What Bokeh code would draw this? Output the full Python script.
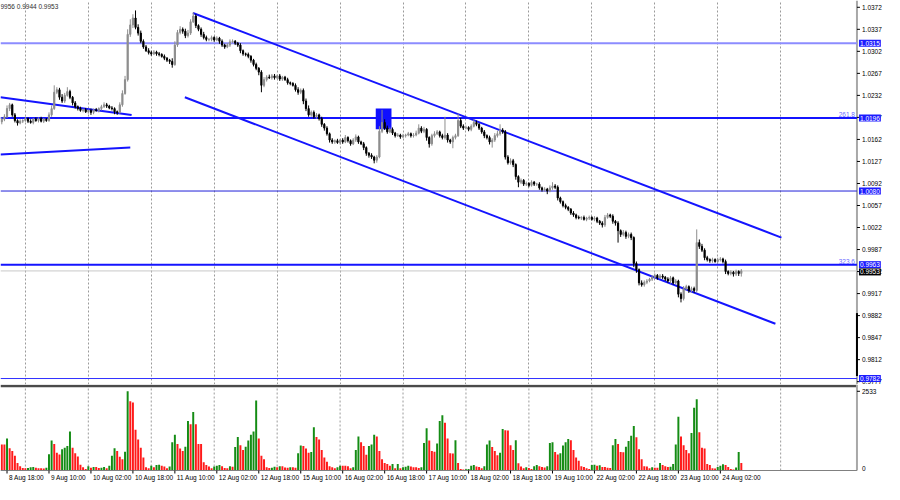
from bokeh.plotting import figure
from bokeh.layouts import column
from bokeh.models import ColumnDataSource, FixedTicker, Label, Range1d, Grid
from bokeh.core.properties import value
from bokeh.embed import file_html
from bokeh.resources import INLINE

# ---------------- data (H1 bars, index 0 = 8 Aug 16:00) ----------------
first_open = 1.0190
closes = [
 1.0194, 1.0198, 1.0211, 1.0217, 1.0201, 1.0192, 1.0188, 1.0191, 1.0192, 1.0195,
 1.0191, 1.0189, 1.0194, 1.0192, 1.0195, 1.0191, 1.0194, 1.0192, 1.0201, 1.0211,
 1.0237, 1.0241, 1.0229, 1.0223, 1.0232, 1.0238, 1.0229, 1.0220, 1.0214, 1.0211,
 1.0208, 1.0209, 1.0206, 1.0208, 1.0205, 1.0209, 1.0208, 1.0211, 1.0214, 1.0217,
 1.0215, 1.0212, 1.0211, 1.0206, 1.0205, 1.0217, 1.0235, 1.0257, 1.0329, 1.0344,
 1.0355, 1.0340, 1.0331, 1.0318, 1.0309, 1.0303, 1.0300, 1.0298, 1.0301, 1.0298,
 1.0297, 1.0294, 1.0291, 1.0288, 1.0286, 1.0281, 1.0312, 1.0332, 1.0337, 1.0334,
 1.0327, 1.0331, 1.0349, 1.0358, 1.0343, 1.0337, 1.0329, 1.0324, 1.0321, 1.0321,
 1.0324, 1.0320, 1.0323, 1.0318, 1.0312, 1.0309, 1.0312, 1.0317, 1.0318, 1.0315,
 1.0312, 1.0303, 1.0298, 1.0297, 1.0294, 1.0288, 1.0281, 1.0275, 1.0269, 1.0248,
 1.0257, 1.0261, 1.0260, 1.0263, 1.0260, 1.0263, 1.0258, 1.0261, 1.0257, 1.0252,
 1.0251, 1.0248, 1.0241, 1.0237, 1.0240, 1.0223, 1.0211, 1.0201, 1.0205, 1.0198,
 1.0201, 1.0195, 1.0186, 1.0180, 1.0171, 1.0161, 1.0158, 1.0160, 1.0157, 1.0161,
 1.0158, 1.0165, 1.0160, 1.0155, 1.0161, 1.0166, 1.0158, 1.0155, 1.0149, 1.0140,
 1.0137, 1.0134, 1.0129, 1.0134, 1.0175, 1.0189, 1.0180, 1.0174, 1.0178, 1.0172,
 1.0168, 1.0169, 1.0166, 1.0168, 1.0169, 1.0171, 1.0168, 1.0169, 1.0172, 1.0180,
 1.0175, 1.0178, 1.0165, 1.0155, 1.0168, 1.0171, 1.0174, 1.0168, 1.0165, 1.0169,
 1.0161, 1.0158, 1.0165, 1.0168, 1.0192, 1.0183, 1.0180, 1.0181, 1.0178, 1.0183,
 1.0189, 1.0186, 1.0180, 1.0174, 1.0168, 1.0165, 1.0158, 1.0161, 1.0168, 1.0171,
 1.0177, 1.0174, 1.0134, 1.0125, 1.0128, 1.0122, 1.0103, 1.0094, 1.0097, 1.0091,
 1.0092, 1.0089, 1.0094, 1.0091, 1.0091, 1.0085, 1.0082, 1.0083, 1.0080, 1.0085,
 1.0088, 1.0086, 1.0069, 1.0063, 1.0057, 1.0054, 1.0051, 1.0045, 1.0042, 1.0038,
 1.0037, 1.0038, 1.0035, 1.0037, 1.0038, 1.0035, 1.0037, 1.0032, 1.0029, 1.0026,
 1.0038, 1.0042, 1.0040, 1.0032, 1.0029, 1.0017, 1.0011, 1.0014, 1.0008, 1.0011,
 1.0006, 0.9965, 0.9955, 0.9934, 0.9931, 0.9935, 0.9937, 0.9940, 0.9943, 0.9946,
 0.9942, 0.9945, 0.9943, 0.9940, 0.9937, 0.9942, 0.9934, 0.9937, 0.9916, 0.9909,
 0.9925, 0.9928, 0.9922, 0.9925, 0.9922, 0.9998, 0.9992, 0.9986, 0.9974, 0.9971,
 0.9969, 0.9971, 0.9968, 0.9971, 0.9972, 0.9968, 0.9952, 0.9949, 0.9951, 0.9948,
 0.9952, 0.9949, 0.9953,
]
up_wick_pips = [
 3,4,5,3,2,3,2,3,2,3,2,3,2,3,2,3,2,2,4,5,
 11,4,3,5,4,7,3,2,3,2,3,2,3,2,3,2,3,2,3,4,
 3,2,3,2,2,4,5,6,8,9,6,12,5,4,3,3,4,3,3,2,
 3,2,3,2,2,5,6,4,5,3,4,5,4,6,3,2,3,4,3,2,
 3,2,3,2,3,2,3,4,3,2,2,3,2,2,3,2,2,3,2,3,
 4,3,4,3,3,2,3,2,2,3,2,2,3,4,3,3,4,5,3,3,
 3,2,3,2,3,2,3,2,3,2,3,4,2,2,3,4,2,2,3,2,
 2,3,2,3,8,20,5,4,3,3,2,3,2,3,2,3,2,3,4,6,
 3,4,2,2,3,4,3,2,3,29,3,2,3,3,11,4,3,3,2,3,
 5,3,2,2,3,2,3,3,4,5,9,3,3,3,4,3,2,2,3,2,
 3,2,3,2,2,3,2,3,2,4,6,3,3,2,2,3,2,2,3,2,
 3,2,3,2,3,2,3,2,2,3,4,3,2,3,2,3,2,4,3,3,
 3,2,3,2,4,3,3,2,3,3,2,3,3,2,3,3,2,3,2,3,
 4,3,2,3,3,21,5,4,3,3,2,3,2,3,3,2,3,2,3,2,
 3,2,3,
]
dn_wick_pips = [
 4,3,2,4,3,3,4,2,3,2,3,2,3,2,3,2,3,2,2,3,
 2,3,4,3,3,2,3,4,3,3,2,3,2,3,4,3,2,3,3,2,
 3,2,3,4,4,2,3,2,3,4,5,3,4,3,3,2,3,3,2,3,
 3,2,3,3,4,5,2,3,3,4,4,3,3,2,4,3,4,3,3,3,
 3,3,2,4,3,3,2,3,2,3,3,4,3,3,3,4,3,3,5,11,
 3,3,2,3,3,2,3,3,2,3,3,2,3,4,3,5,4,3,3,3,
 3,3,4,4,3,4,3,3,2,3,3,2,3,3,2,3,3,2,4,4,
 4,3,5,4,2,3,3,3,2,3,3,2,3,2,3,2,3,3,2,2,
 3,3,5,6,3,3,2,3,3,3,4,3,10,3,2,3,3,2,3,3,
 2,3,3,3,4,3,4,9,3,3,3,3,4,3,3,4,5,8,3,3,
 3,3,2,3,3,3,3,3,5,2,3,3,4,3,3,3,3,3,3,3,
 2,3,2,3,3,2,3,3,3,4,3,2,3,4,4,19,4,3,4,3,
 4,6,5,4,3,3,3,2,3,3,3,2,3,3,3,4,3,3,5,6,
 3,3,4,3,4,3,4,3,4,3,3,3,2,3,3,3,4,3,3,4,
 3,4,5,
]
volumes = [
 830, 830, 1020, 710, 620, 470, 240, 135, 80,
 70, 80, 100, 110, 90, 70, 70, 60, 90,
 520, 960, 850, 570, 510, 680, 730, 780, 1250, 730, 550, 450, 180, 100, 50, 135,
 90, 110, 110, 80, 90, 110, 70,
 155, 470, 710, 620, 440, 360, 600, 2533, 2215, 2175, 1300, 990, 730, 415, 100,
 70, 155, 100, 175, 180, 150, 130, 70, 130,
 900, 1140, 850, 700, 620, 760, 1580, 1480, 1870, 1480, 850, 850, 260, 175, 125, 70,
 125, 155, 175, 135, 80, 70, 135, 120,
 750, 1070, 810, 655, 760, 960, 1140, 1250, 2240, 1020, 470, 360, 100,
 80, 90, 120, 100, 135, 135, 95, 85, 100, 100, 85,
 550, 800, 780, 700, 570, 590, 1380, 1070, 990, 655, 415, 280, 135, 100, 70,
 100, 155, 150, 150, 135, 70, 100,
 655, 1090, 900, 780, 500, 780, 830, 1140, 1090, 620, 360, 240, 210, 155, 210, 70,
 210, 70, 100, 120, 150, 130, 100, 100, 80, 100,
 880, 1350, 960,
 620, 600, 860, 1580, 1770, 1530, 1020, 550, 540, 970,
 240, 50, 30, 40, 50, 155, 175, 125, 115, 70,
 135, 830, 960, 750, 620, 490, 570, 1330, 1290, 1280,
 810, 655, 970, 230, 125, 70, 100, 80, 50, 135,
 175, 135, 115, 95, 135, 880, 900, 590, 510, 550,
 800, 900, 1010, 970, 655, 415, 310, 135, 115, 70,
 50, 175, 180, 155, 165, 115, 110, 90, 80, 810,
 1010, 850, 590, 580, 760, 940, 1110, 1420, 1060, 680,
 360, 135, 130, 70, 100, 90, 85, 240, 175, 135,
 115, 120, 210, 830, 1720, 1090, 810, 655, 550, 1200,
 2010, 2280, 1220, 730, 700, 210, 175, 70, 65, 115,
 155, 200, 175, 115, 50, 30, 95, 590, 240,
]
tick_bars = [2, 18, 34, 50, 66, 82, 98, 114, 130, 146, 162, 178, 194, 210, 226, 242, 258, 274]
tick_labels = ["8 Aug 18:00", "9 Aug 10:00", "10 Aug 02:00", "10 Aug 18:00", "11 Aug 10:00",
               "12 Aug 02:00", "12 Aug 18:00", "15 Aug 10:00", "16 Aug 02:00", "16 Aug 18:00",
               "17 Aug 10:00", "18 Aug 02:00", "18 Aug 18:00", "19 Aug 10:00", "22 Aug 02:00",
               "22 Aug 18:00", "23 Aug 10:00", "24 Aug 02:00"]
grid_bars = [9, 33, 57, 81, 105, 129, 153, 177, 201, 225, 249, 273, 297]
price_ticks = [1.0372, 1.0337, 1.0302, 1.0267, 1.0232, 1.0197, 1.0162, 1.0127, 1.0092,
               1.0057, 1.0022, 0.9987, 0.9952, 0.9917, 0.9882, 0.9847, 0.9812, 0.9777]
volume_max_label = 2533
level_prices = [1.0315, 1.0196, 1.0080, 0.9963, 0.9782]
bid_price = 0.9953
fibo_texts = ["261.8", "323.6"]
fibo_prices = [1.0196, 0.9963]
header_text = "9956 0.9944 0.9953"
channel_upper_x, channel_upper_y = [72.9, 297.3], [1.0363, 1.0006]
channel_lower_x, channel_lower_y = [69.8, 295.0], [1.0229, 0.9869]
left_upper_x, left_upper_y = [-0.5, 49.5], [1.0229, 1.0201]
left_lower_x, left_lower_y = [-0.5, 49.0], [1.0138, 1.0149]
box_left, box_right, box_bottom, box_top = 142.6, 148.6, 1.0178, 1.0211
scale_marker_prices = [0.9886, 0.9786]

n = len(closes)
assert len(up_wick_pips) == n and len(dn_wick_pips) == n and len(volumes) == n

# ---------------- derived OHLC ----------------
xs = list(range(n))
opens = [first_open] + closes[:-1]
highs = [max(o, c) + u * 0.0001 for o, c, u in zip(opens, closes, up_wick_pips)]
lows = [min(o, c) - d * 0.0001 for o, c, d in zip(opens, closes, dn_wick_pips)]
UP, DOWN = "#8e8e8e", "#000000"
ccol = [UP if c >= o else DOWN for o, c in zip(opens, closes)]
src = ColumnDataSource(dict(x=xs, h=highs, l=lows,
                            top=[max(o, c) for o, c in zip(opens, closes)],
                            bot=[min(o, c) for o, c in zip(opens, closes)], col=ccol))
vcol = ["#ff1a1a"] + ["#148c14" if volumes[i] > volumes[i - 1] else "#ff1a1a" for i in range(1, n)]
vsrc = ColumnDataSource(dict(x=xs, v=volumes, col=vcol))

FONT = "Liberation Sans"
FS = "6.5px"
W = 884
AXIS_X = 326.1                 # bar position of the price-scale line
XR = Range1d(-0.49, 336.6)     # frame covers chart + price-scale strip
px_per_bar = W / (XR.end - XR.start)
TICK = 3 / px_per_bar

# ---------------- main price panel ----------------
H1 = 384
YR1 = Range1d(0.97725, 1.03828)
p1 = figure(width=W, height=H1, x_range=XR, y_range=YR1,
            output_backend="svg", toolbar_location=None, x_axis_location=None,
            y_axis_location=None, min_border=0)
p1.outline_line_color = None
p1.grid.visible = False
p1.add_layout(Grid(dimension=0, ticker=FixedTicker(ticks=grid_bars), grid_line_color="#9a9a9a",
                   grid_line_dash="2 2", grid_line_width=1))

# price scale
p1.segment(x0=[AXIS_X], y0=[YR1.start], x1=[AXIS_X], y1=[YR1.end], line_color="#a8a8a8", line_width=2)
p1.segment(x0=[AXIS_X], y0=[scale_marker_prices[0]], x1=[AXIS_X], y1=[scale_marker_prices[1]],
           line_color="#000000", line_width=2)
p1.segment(x0=[AXIS_X] * len(price_ticks), y0=price_ticks, x1=[AXIS_X + TICK] * len(price_ticks),
           y1=price_ticks, line_color="#000000", line_width=1)
p1.text(x=[AXIS_X] * len(price_ticks), y=price_ticks, text=[f"{t:.4f}" for t in price_ticks],
        x_offset=5, text_baseline="middle", text_align="left", text_font=value(FONT),
        text_font_size=FS, text_color="#000000")

# horizontal levels
level_colors = ["#8c8cff", "#1414ff", "#2020d8", "#1414ff", "#3030ff"]
level_widths = [2, 2, 1, 2, 1]
p1.segment(x0=[XR.start] * 5, y0=level_prices, x1=[AXIS_X] * 5, y1=level_prices,
           line_color=level_colors, line_width=level_widths)
p1.segment(x0=[XR.start], y0=[bid_price], x1=[AXIS_X], y1=[bid_price], line_color="#c8c8c8", line_width=1)

# trend lines
for lx, ly in [(channel_upper_x, channel_upper_y), (channel_lower_x, channel_lower_y),
               (left_upper_x, left_upper_y), (left_lower_x, left_lower_y)]:
    p1.line(lx, ly, line_color="#1414ff", line_width=2)

# rectangle
p1.quad(left=[box_left], right=[box_right], bottom=[box_bottom], top=[box_top],
        fill_color="#1010ff", line_color=None)

# candles
p1.segment(x0="x", y0="h", x1="x", y1="l", line_color="col", line_width=1, source=src)
p1.vbar(x="x", width=0.45, top="top", bottom="bot", fill_color="col", line_color="col",
        line_width=1, source=src)

# fibo texts
for t, pr in zip(fibo_texts, fibo_prices):
    p1.add_layout(Label(x=AXIS_X, y=pr, x_offset=-2, y_offset=1, text=t, text_align="right",
                        text_baseline="bottom", text_font=FONT, text_font_size=FS,
                        text_color="#6a6aff"))

# price boxes on the scale
for pr in level_prices:
    p1.add_layout(Label(x=AXIS_X, y=pr, x_offset=2, text=f"{pr:.4f}", text_align="left",
                        text_baseline="middle", text_font=FONT, text_font_size=FS,
                        text_color="white", background_fill_color="#1c1cff", padding=1))
p1.add_layout(Label(x=AXIS_X, y=bid_price, x_offset=2, y_offset=-1, text=f"{bid_price:.4f}",
                    text_align="left", text_baseline="middle", text_font=FONT, text_font_size=FS,
                    text_color="white", background_fill_color="#000000", padding=1))

p1.add_layout(Label(x=XR.start, y=YR1.end, x_offset=0, y_offset=-2, text=header_text,
                    text_align="left", text_baseline="top", text_font=FONT, text_font_size=FS,
                    text_color="#303030"))

# ---------------- volume panel ----------------
H2 = 100
LABEL_STRIP = 14
VTOP = 2750
v_per_px = VTOP / (H2 - LABEL_STRIP)
YR2 = Range1d(-LABEL_STRIP * v_per_px, VTOP)
p2 = figure(width=W, height=H2, x_range=XR, y_range=YR2,
            output_backend="svg", toolbar_location=None, x_axis_location=None,
            y_axis_location=None, min_border=0)
p2.outline_line_color = None
p2.grid.visible = False
# grid (dotted) down to the time axis
p2.segment(x0=grid_bars, y0=[0] * len(grid_bars), x1=grid_bars, y1=[VTOP] * len(grid_bars),
           line_color="#9a9a9a", line_dash="2 2", line_width=1)
p2.vbar(x="x", top="v", bottom=0, width=0.75, fill_color="col", line_color=None, source=vsrc)
# separator between panels
p2.segment(x0=[XR.start], y0=[VTOP - 1.5 * v_per_px], x1=[AXIS_X], y1=[VTOP - 1.5 * v_per_px],
           line_color="#4a4a4a", line_width=2.5)
# scale line + time axis line
p2.segment(x0=[AXIS_X], y0=[0], x1=[AXIS_X], y1=[VTOP], line_color="#a8a8a8", line_width=2)
p2.segment(x0=[XR.start], y0=[0], x1=[AXIS_X], y1=[0], line_color="#808080", line_width=1)
# volume scale labels
p2.segment(x0=[AXIS_X], y0=[volume_max_label], x1=[AXIS_X + TICK], y1=[volume_max_label],
           line_color="#000000", line_width=1)
p2.text(x=[AXIS_X], y=[volume_max_label], text=[str(volume_max_label)], x_offset=5,
        text_baseline="middle", text_font=value(FONT), text_font_size=FS, text_color="#000000")
p2.text(x=[AXIS_X], y=[0], text=["0"], x_offset=5, text_baseline="bottom",
        text_font=value(FONT), text_font_size=FS, text_color="#000000")
# time ticks + labels
p2.segment(x0=tick_bars, y0=[0] * len(tick_bars), x1=tick_bars, y1=[-3 * v_per_px] * len(tick_bars),
           line_color="#000000", line_width=1)
p2.text(x=tick_bars, y=[-7 * v_per_px] * len(tick_bars), text=tick_labels, x_offset=2,
        text_baseline="middle", text_align="left", text_font=value(FONT), text_font_size=FS,
        text_color="#000000")

p = column(p1, p2)
open("out.html", "w").write(file_html(p, INLINE))
